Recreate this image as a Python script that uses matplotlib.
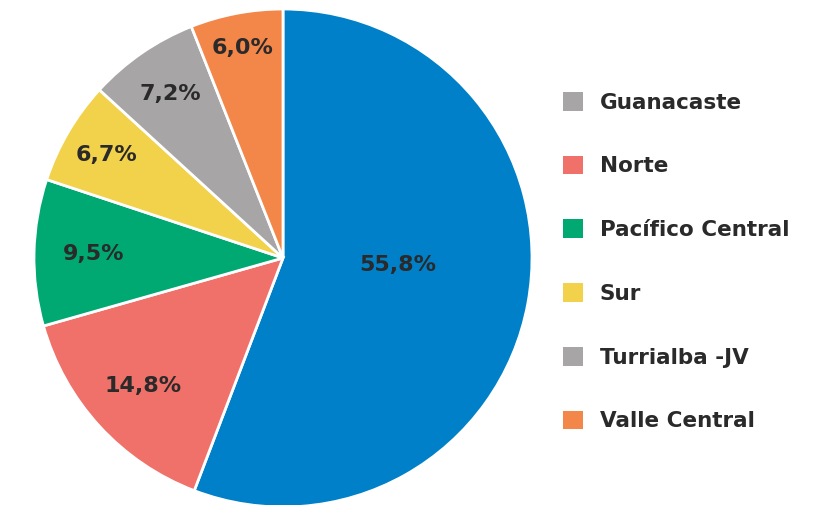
import numpy as np
import matplotlib.pyplot as plt
from matplotlib.patches import Patch

# data
regions = ["Guanacaste", "Norte", "Pacífico Central", "Sur", "Turrialba -JV", "Valle Central"]
shares = [55.8, 14.8, 9.5, 6.7, 7.2, 6.0]
labels = ["55,8%", "14,8%", "9,5%", "6,7%", "7,2%", "6,0%"]
slice_colors = ["#0080C8", "#F0706A", "#00A971", "#F2D14B", "#A7A5A6", "#F38649"]
legend_colors = ["#A7A5A6", "#F0706A", "#00A971", "#F2D14B", "#A7A5A6", "#F38649"]

# label distance from the centre, as a fraction of the radius
label_r = [0.46, 0.76, 0.76, 0.82, 0.80, 0.86]

plt.rcParams["font.family"] = ["DejaVu Sans"]
text_color = "#2A2A2A"

fig = plt.figure(figsize=(8.23, 5.05), dpi=100)
ax = fig.add_axes([34 / 823, -2 / 505, 498 / 823, 498 / 505])

wedges, _ = ax.pie(
    shares,
    colors=slice_colors,
    startangle=90,
    counterclock=False,
    wedgeprops=dict(edgecolor="white", linewidth=2),
)
ax.set_aspect("equal")
ax.set_xlim(-1, 1)
ax.set_ylim(-1, 1)

# percentage labels
for i, w in enumerate(wedges):
    mid = np.deg2rad((w.theta1 + w.theta2) / 2)
    if i == 0:
        mid = np.deg2rad(-3.5)
    r = label_r[i]
    ax.text(r * np.cos(mid), r * np.sin(mid), labels[i], ha="center", va="center",
            fontsize=16, fontweight="bold", color=text_color)

handles = [Patch(facecolor=c, edgecolor="none") for c in legend_colors]
leg = fig.legend(
    handles, regions,
    loc="upper left",
    bbox_to_anchor=(563 / 823, 1 - 92 / 505),
    frameon=False,
    fontsize=15.5,
    handlelength=0.95,
    handleheight=0.95,
    handletextpad=0.75,
    labelspacing=2.0,
    borderpad=0,
    borderaxespad=0,
)
for t in leg.get_texts():
    t.set_color(text_color)
    t.set_fontweight("bold")

fig.savefig("out.png", dpi=100)
